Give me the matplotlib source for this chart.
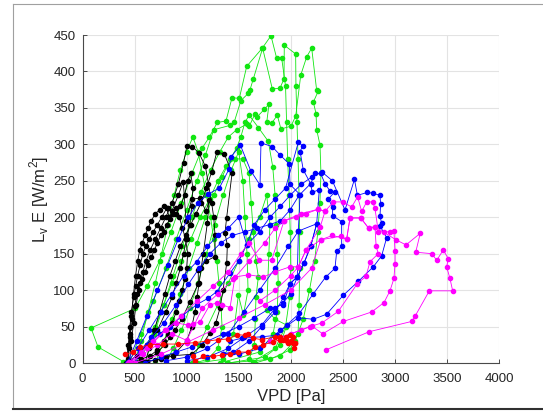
import matplotlib
matplotlib.use("Agg")
import matplotlib.pyplot as plt
from matplotlib.lines import Line2D

plt.rcParams['font.family'] = ['Liberation Sans', 'DejaVu Sans']
plt.rcParams['mathtext.fontset'] = 'custom'
plt.rcParams['mathtext.rm'] = 'Liberation Sans'

# Daily VPD [Pa] / latent heat flux [W/m2] loops, grouped by site colour
black_loops = [
    [(430, 2), (445, 20), (460, 40), (480, 60), (500, 78), (525, 95), (550, 110), (580, 125), (610, 140),
     (650, 155), (700, 170), (750, 185), (800, 200), (860, 220), (920, 245), (970, 275), (1004, 298),
     (1055, 297), (1119, 288), (1180, 270), (1210, 245), (1240, 220), (1260, 200), (1273, 175), (1273, 146),
     (1190, 140), (1112, 128), (1112, 109), (1032, 84), (953, 60), (888, 45), (840, 35), (792, 25),
     (712, 14), (616, 2), (450, 0)],
    [(420, 0), (440, 25), (455, 50), (470, 70), (490, 90), (510, 105), (530, 120), (555, 135), (580, 150),
     (610, 160), (640, 170), (680, 180), (720, 190), (760, 200), (808, 212), (834, 200), (920, 230),
     (968, 249), (994, 195), (1050, 225), (1128, 226), (1186, 208), (1218, 224), (1199, 192), (1160, 150),
     (1140, 130), (1120, 110), (1100, 90), (1080, 70), (1050, 50), (1000, 30), (900, 15), (800, 8),
     (700, 4), (600, 2), (480, 0)],
    [(600, 0), (640, 20), (690, 45), (740, 70), (790, 95), (840, 120), (890, 140), (940, 160), (990, 175),
     (1040, 190), (1090, 205), (1140, 220), (1190, 240), (1240, 262), (1289, 289), (1362, 287), (1436, 260),
     (1384, 199), (1368, 178), (1391, 162), (1385, 137), (1350, 100), (1320, 75), (1280, 55), (1224, 41),
     (1150, 25), (1050, 12), (870, 10), (750, 5), (620, 2)],
    [(440, 5), (455, 35), (470, 65), (490, 95), (510, 120), (530, 140), (550, 155), (575, 165), (600, 175),
     (630, 185), (660, 195), (700, 205), (740, 210), (780, 215), (820, 212), (860, 208), (900, 205),
     (940, 215), (980, 230), (1010, 250), (1040, 260), (1060, 240), (1050, 215), (1030, 190), (1000, 170),
     (970, 150), (940, 130), (900, 110), (860, 90), (800, 70), (720, 45), (620, 25), (520, 10), (450, 3)],
    [(450, 0), (470, 30), (490, 55), (515, 80), (540, 100), (570, 115), (600, 125), (630, 135), (660, 145),
     (690, 155), (720, 165), (750, 175), (780, 180), (810, 190), (840, 198), (870, 205), (900, 212),
     (930, 200), (960, 185), (990, 170), (1010, 150), (1000, 130), (980, 115), (960, 100), (930, 85),
     (900, 70), (860, 55), (820, 40), (780, 30), (720, 18), (650, 10), (560, 5), (470, 0)],
]

green_loops = [
    [(392, 2), (149, 22), (82, 48), (505, 75), (620, 105), (740, 140), (850, 180), (950, 220), (1050, 260),
     (1150, 295), (1218, 310), (1295, 330), (1378, 332), (1436, 364), (1506, 363), (1577, 407), (1727, 432),
     (1810, 449), (1865, 418), (1913, 418), (1950, 380), (1960, 330), (1970, 280), (1985, 230), (1995, 180),
     (2000, 130), (1990, 90), (1950, 50), (1850, 20), (1640, 2)],
    [(450, 0), (560, 40), (680, 85), (800, 130), (900, 170), (1000, 210), (1100, 250), (1180, 285),
     (1260, 320), (1417, 326), (1458, 331), (1521, 360), (1593, 370), (1609, 375), (1641, 390), (1730, 432),
     (1823, 376), (1897, 377), (1935, 390), (1938, 436), (2047, 424), (2050, 380), (2060, 330), (2070, 280),
     (2080, 230), (2085, 180), (2085, 130), (2080, 80), (2070, 40), (1993, 18), (1800, 5), (1383, 0)],
    [(600, 0), (690, 40), (780, 80), (870, 120), (960, 160), (1050, 200), (1140, 235), (1230, 265),
     (1320, 290), (1400, 310), (1480, 320), (1580, 328), (1602, 325), (1657, 342), (1679, 338), (1746, 348),
     (1791, 355), (1769, 330), (1817, 329), (1871, 340), (1906, 321), (2003, 325), (2048, 339), (2096, 395),
     (2153, 420), (2201, 432), (2249, 374), (2264, 373), (2217, 358), (2243, 342), (2249, 320), (2281, 299),
     (2290, 260), (2280, 220), (2260, 180), (2230, 140), (2180, 100), (2120, 60), (2040, 30), (1900, 10),
     (1657, 0)],
    [(700, 0), (780, 30), (860, 60), (940, 95), (1020, 130), (1100, 165), (1180, 200), (1260, 230),
     (1340, 255), (1420, 280), (1480, 295), (1520, 310), (1560, 330), (1600, 340), (1689, 323), (1785, 304),
     (1827, 269), (1850, 230), (1860, 190), (1870, 150), (1880, 110), (1870, 70), (1830, 40), (1700, 15),
     (1320, 0)],
    [(500, 0), (560, 30), (630, 70), (700, 110), (760, 150), (820, 190), (880, 230), (940, 265), (1000, 290),
     (1060, 310), (1110, 290), (1150, 260), (1190, 230), (1230, 200), (1260, 170), (1290, 140), (1310, 110),
     (1330, 80), (1340, 50), (1300, 20), (1200, 5), (1081, 0)],
    [(550, 0), (620, 25), (700, 50), (780, 80), (860, 110), (950, 140), (1040, 170), (1130, 200), (1220, 225),
     (1300, 250), (1380, 270), (1460, 280), (1540, 280), (1600, 260), (1620, 220), (1640, 180), (1666, 140),
     (1689, 118), (1666, 91), (1660, 60), (1650, 25), (1600, 5)],
    [(800, 0), (870, 20), (950, 45), (1030, 75), (1110, 110), (1190, 150), (1270, 190), (1350, 230),
     (1430, 265), (1500, 290), (1540, 250), (1560, 200), (1580, 150), (1590, 100), (1545, 66), (1497, 93),
     (1450, 40), (1350, 5), (1100, 0)],
    [(1050, 0), (1120, 25), (1200, 50), (1300, 80), (1400, 110), (1500, 140), (1600, 170), (1700, 200),
     (1769, 230), (1800, 190), (1790, 150), (1769, 73), (1850, 60), (1961, 52), (1900, 25), (1750, 8),
     (1400, 0)],
]

blue_loops = [
    [(430, 0), (520, 30), (620, 65), (720, 100), (820, 135), (920, 170), (1016, 200), (1110, 220),
     (1210, 232), (1314, 240), (1407, 266), (1423, 282), (1516, 299), (1615, 264), (1705, 244), (1714, 302),
     (1820, 297), (1900, 285), (1986, 273), (1993, 245), (2089, 231), (2073, 181), (2063, 118), (2000, 95),
     (1922, 82), (1849, 75), (1721, 52), (1550, 35), (1400, 20), (1200, 8), (1000, 3)],
    [(440, 2), (530, 20), (640, 45), (750, 70), (860, 95), (970, 120), (1097, 139), (1200, 160), (1300, 175),
     (1400, 185), (1500, 200), (1577, 162), (1650, 190), (1750, 210), (1850, 225), (1950, 240), (2073, 303),
     (2114, 298), (2090, 290), (2120, 265), (2191, 246), (2207, 234), (2274, 238), (2249, 191), (2191, 160),
     (2127, 137), (2063, 118), (1993, 109), (1930, 90), (1850, 70), (1720, 50), (1600, 30), (1450, 15),
     (1352, 13)],
    [(450, 0), (550, 15), (660, 35), (780, 55), (900, 80), (1016, 108), (1120, 130), (1224, 150), (1330, 165),
     (1440, 175), (1560, 180), (1680, 185), (1800, 190), (1900, 195), (1993, 210), (2080, 230), (2191, 246),
     (2233, 260), (2287, 260), (2329, 246), (2377, 236), (2425, 235), (2361, 225), (2402, 214), (2402, 202),
     (2489, 194), (2489, 160), (2441, 153), (2425, 130), (2336, 118), (2217, 95), (2082, 68), (1961, 52),
     (1865, 38), (1721, 36), (1529, 34), (1416, 30)],
    [(500, 0), (616, 25), (740, 40), (840, 50), (960, 65), (1097, 80), (1208, 89), (1289, 98), (1416, 123),
     (1500, 140), (1577, 162), (1700, 180), (1800, 200), (1900, 215), (1993, 230), (2100, 245), (2200, 255),
     (2300, 262), (2400, 250), (2521, 210), (2612, 252), (2640, 230), (2735, 234), (2787, 233), (2857, 230),
     (2863, 218), (2857, 201), (2873, 192), (2857, 188), (2921, 172), (2873, 147), (2793, 132), (2649, 112),
     (2505, 93), (2345, 67), (2217, 60), (2073, 62), (1900, 45), (1705, 20), (1500, 12), (1352, 13)],
    [(600, 0), (750, 8), (900, 15), (1050, 22), (1200, 30), (1352, 40), (1500, 50), (1650, 62), (1800, 75),
     (1928, 80), (1993, 109), (2063, 118), (2127, 137), (2191, 160), (2249, 191), (2073, 181), (1977, 160),
     (1850, 130), (1700, 100), (1550, 70), (1400, 40), (1200, 20), (1000, 8), (800, 3)],
]

magenta_loops = [
    [(500, 0), (750, 12), (1000, 28), (1250, 45), (1500, 62), (1750, 80), (2000, 100), (2200, 130),
     (2288, 169), (2400, 175), (2537, 170), (2569, 199), (2672, 199), (2748, 185), (2809, 187), (3011, 169),
     (3107, 162), (3244, 178), (3200, 152), (3354, 150), (3402, 141), (3465, 155), (3513, 143), (3497, 132),
     (3529, 116), (3555, 99), (3331, 99), (3193, 64), (3161, 57), (2755, 43), (2338, 18)],
    [(450, 2), (560, 15), (680, 30), (792, 45), (900, 55), (1016, 52), (1064, 54), (1128, 56), (1224, 80),
     (1289, 82), (1337, 80), (1417, 76), (1464, 118), (1593, 121), (1737, 118), (1850, 125), (1993, 132),
     (2073, 132), (2146, 155), (2288, 169), (2483, 174), (2537, 170), (2569, 199), (2672, 199), (2748, 185),
     (2809, 187), (2820, 160), (2841, 150), (2761, 139), (2723, 119), (2640, 109), (2457, 71), (2300, 55),
     (2185, 50), (2000, 40), (1800, 30)],
    [(470, 0), (620, 20), (800, 45), (950, 65), (1100, 85), (1250, 105), (1400, 125), (1520, 150), (1600, 165),
     (1698, 141), (1817, 141), (1935, 195), (2050, 200), (2150, 205), (2265, 211), (2329, 208), (2409, 221),
     (2498, 221), (2585, 214), (2642, 228), (2681, 208), (2729, 221), (2787, 221), (2809, 212), (2841, 180),
     (2896, 180), (2953, 180), (2991, 181), (3001, 153), (3001, 136), (2991, 116), (2953, 99), (2896, 83),
     (2777, 70), (2505, 57), (2307, 40), (2201, 51), (2100, 45), (1900, 35)],
    [(440, 0), (580, 12), (720, 25), (860, 40), (1001, 31), (1150, 75), (1300, 95), (1450, 115), (1600, 140),
     (1750, 165), (1850, 185), (1935, 195), (2100, 205), (2265, 211), (2329, 208), (2281, 186), (2146, 155),
     (2073, 132), (2000, 120), (1850, 100), (1700, 85)],
]

red_loops = [
    [(408, 12), (488, 15), (552, 22), (648, 25), (776, 26), (920, 26), (1080, 28), (1192, 30), (1304, 32),
     (1400, 33), (1481, 39), (1561, 38), (1593, 40), (1641, 34), (1721, 32), (1849, 36), (1897, 36),
     (1929, 32), (1977, 27), (2025, 27), (2041, 27), (2020, 35), (1990, 38), (1960, 30)],
    [(1058, 9), (1081, 3), (1160, 9), (1256, 9), (1337, 11), (1417, 12), (1497, 15), (1587, 15), (1657, 22),
     (1737, 25), (1833, 29), (1900, 32), (1950, 35), (2000, 30), (2041, 27), (2030, 20)],
]

series = [
    (green_loops, '#11e611'),
    (black_loops, '#000000'),
    (blue_loops, '#0000ff'),
    (magenta_loops, '#ff00ff'),
    (red_loops, '#ff0000'),
]

x_ticks = [0, 500, 1000, 1500, 2000, 2500, 3000, 3500, 4000]
y_ticks = [0, 50, 100, 150, 200, 250, 300, 350, 400, 450]

fig = plt.figure(figsize=(5.43, 4.12), dpi=100)
ax = fig.add_axes([82.5 / 543, 1 - 363 / 412, (499 - 82.5) / 543, (363 - 35) / 412])

for loops, color in series:
    for loop in loops:
        xs = [p[0] for p in loop]
        ys = [p[1] for p in loop]
        ax.plot(xs, ys, '-o', color=color, lw=0.6, ms=3.0, mec=color, mfc=color)

ax.set_xlim(0, 4000)
ax.set_ylim(0, 450)
ax.set_xticks(x_ticks)
ax.set_yticks(y_ticks)
ax.grid(True, color='#e3e3e3', lw=0.8)
ax.set_axisbelow(True)
for s in ('top', 'right'):
    ax.spines[s].set_visible(False)
for s in ('left', 'bottom'):
    ax.spines[s].set_color('#4a4a4a')
    ax.spines[s].set_linewidth(0.8)
ax.tick_params(direction='in', length=3, width=0.7, color='#4a4a4a',
               labelsize=9.5, labelcolor='#262626')
ax.tick_params(axis='x', pad=7)
ax.tick_params(axis='y', pad=5)
ax.set_xlabel('VPD [Pa]', fontsize=12, color='#262626', labelpad=3)
ax.set_ylabel(r'L$_\mathregular{v}$ E [W/m$^\mathregular{2}$]', fontsize=12,
              color='#262626', labelpad=2)

# window frame around the figure
fig.add_artist(Line2D([12.5 / 543, 12.5 / 543], [1 - 4 / 412, 1 - 408 / 412],
                      transform=fig.transFigure, color='#a0a0a0', lw=0.8))
fig.add_artist(Line2D([12.5 / 543, 1], [1 - 4 / 412, 1 - 4 / 412],
                      transform=fig.transFigure, color='#a0a0a0', lw=0.8))
fig.add_artist(Line2D([12.5 / 543, 1], [1 - 408.5 / 412, 1 - 408.5 / 412],
                      transform=fig.transFigure, color='#303030', lw=1.5))

fig.savefig('out.png', dpi=100, facecolor='white')
